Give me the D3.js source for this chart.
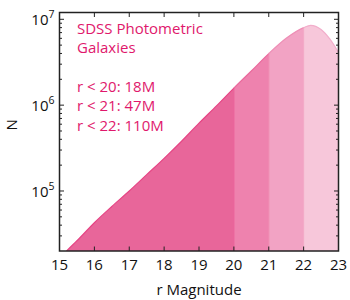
<!DOCTYPE html>
<html>
<head>
<meta charset="utf-8">
<script src="https://cdn.jsdelivr.net/npm/d3@7"></script>
<style>
  body { margin: 0; background: #fff; }
  text { font-family: "Open Sans", sans-serif; }
</style>
</head>
<body>
<div id="chart"></div>
<script>
// r magnitude vs. number of galaxies
var mags   = [15.2, 15.5, 16, 16.5, 17, 17.5, 18, 18.5, 19, 19.5, 20, 20.5, 21, 21.5, 22, 22.2, 22.5, 22.75, 23];
var counts = [2.0e4, 2.63e4, 4.27e4, 6.6e4, 1.0e5, 1.55e5, 2.4e5, 3.8e5, 6.17e5, 9.8e5, 1.58e6, 2.5e6, 3.98e6, 6.0e6, 8.0e6, 8.5e6, 7.6e6, 5.9e6, 4.1e6];
var cuts   = [15, 20, 21, 22, 23];
var xTicks = [15, 16, 17, 18, 19, 20, 21, 22, 23];
var yTicks = [1e5, 1e6, 1e7];
var notes  = ["SDSS Photometric", "Galaxies", "", "r < 20: 18M", "r < 21: 47M", "r < 22: 110M"];

var width = 350, height = 300,
    margin = {top: 12.5, right: 11.5, bottom: 49, left: 59.5},
    w = width - margin.left - margin.right,
    h = height - margin.top - margin.bottom;

var bandFill = ["#e8669a", "#ee82ae", "#f2a3c4", "#f7c7da"],
    bandEdge = ["#e64585", "#ea6a9d", "#ee8fb6", "#f2aecb"],
    textPink = "#e0186c",
    axisCol  = "#222";

var data = mags.map(function(m, i) { return {m: m, n: counts[i]}; });

var x = d3.scaleLinear().domain([15, 23]).range([0, w]);
var y = d3.scaleLog().domain([2e4, 1.2e7]).range([h, 0]);

var svg = d3.select("#chart").append("svg")
    .attr("width", width)
    .attr("height", height);

svg.append("defs").append("clipPath").attr("id", "clip")
  .append("rect").attr("width", w).attr("height", h);

var g = svg.append("g")
    .attr("transform", "translate(" + margin.left + "," + margin.top + ")");

var plot = g.append("g").attr("clip-path", "url(#clip)");

var area = d3.area()
    .curve(d3.curveMonotoneX)
    .x(function(d) { return x(d.m); })
    .y0(h)
    .y1(function(d) { return y(d.n); });

var line = d3.line()
    .curve(d3.curveMonotoneX)
    .x(function(d) { return x(d.m); })
    .y(function(d) { return y(d.n); });

// one band per magnitude cut, each clipped to its own x range
for (var i = 0; i < cuts.length - 1; i++) {
  var cid = "band" + i;
  svg.select("defs").append("clipPath").attr("id", cid)
    .append("rect")
      .attr("x", x(cuts[i]))
      .attr("y", -5)
      .attr("width", x(cuts[i + 1]) - x(cuts[i]))
      .attr("height", h + 10);

  var b = plot.append("g").attr("clip-path", "url(#" + cid + ")");
  b.append("path").datum(data)
      .attr("d", area)
      .attr("fill", bandFill[i]);
  b.append("path").datum(data)
      .attr("d", line)
      .attr("fill", "none")
      .attr("stroke", bandEdge[i])
      .attr("stroke-width", 1.2);

  if (i > 0) {
    var cut = cuts[i];
    var nAt = d3.scaleLinear().domain(mags).range(counts.map(Math.log))(cut);
    plot.append("line")
        .attr("x1", x(cut)).attr("x2", x(cut))
        .attr("y1", h).attr("y2", y(Math.exp(nAt)))
        .attr("stroke", bandEdge[i - 1])
        .attr("stroke-opacity", 0.6)
        .attr("stroke-width", 1);
  }
}

// ticks (inward, all four sides)
var minorY = [];
[1e4, 1e5, 1e6, 1e7].forEach(function(dec) {
  for (var k = 2; k <= 9; k++) {
    var v = dec * k;
    if (v > 2e4 && v < 1.2e7) minorY.push(v);
  }
});

var ticks = g.append("g").attr("stroke", axisCol).attr("stroke-width", 1);
xTicks.forEach(function(t) {
  ticks.append("line").attr("x1", x(t)).attr("x2", x(t)).attr("y1", h).attr("y2", h - 4.5);
  ticks.append("line").attr("x1", x(t)).attr("x2", x(t)).attr("y1", 0).attr("y2", 4.5);
});
yTicks.forEach(function(t) {
  ticks.append("line").attr("x1", 0).attr("x2", 4.5).attr("y1", y(t)).attr("y2", y(t));
  ticks.append("line").attr("x1", w).attr("x2", w - 4.5).attr("y1", y(t)).attr("y2", y(t));
});
minorY.forEach(function(t) {
  ticks.append("line").attr("x1", 0).attr("x2", 2.5).attr("y1", y(t)).attr("y2", y(t));
  ticks.append("line").attr("x1", w).attr("x2", w - 2.5).attr("y1", y(t)).attr("y2", y(t));
});

// frame
g.append("rect")
    .attr("width", w).attr("height", h)
    .attr("fill", "none")
    .attr("stroke", axisCol)
    .attr("stroke-width", 1.5);

// tick labels
g.selectAll("text.xt").data(xTicks).enter().append("text")
    .attr("class", "xt")
    .attr("x", function(d) { return x(d); })
    .attr("y", h + 19)
    .attr("text-anchor", "middle")
    .attr("font-size", 15)
    .attr("fill", "#111")
    .text(function(d) { return d; });

var yl = g.selectAll("text.yt").data(yTicks).enter().append("text")
    .attr("class", "yt")
    .attr("x", -5)
    .attr("y", function(d) { return y(d) + 6; })
    .attr("text-anchor", "end")
    .attr("font-size", 15)
    .attr("fill", "#111");
yl.append("tspan").text("10");
yl.append("tspan")
    .attr("dy", -7)
    .attr("font-size", 10.5)
    .text(function(d) { return Math.round(Math.log10(d)); });

// axis titles
svg.append("text")
    .attr("x", margin.left + w / 2)
    .attr("y", 295)
    .attr("text-anchor", "middle")
    .attr("font-size", 15)
    .attr("fill", "#111")
    .text("r Magnitude");

svg.append("text")
    .attr("transform", "translate(17," + (margin.top + h / 2 - 7) + ") rotate(-90)")
    .attr("text-anchor", "middle")
    .attr("font-size", 15)
    .attr("fill", "#111")
    .text("N");

// annotation
g.selectAll("text.note").data(notes).enter().append("text")
    .attr("class", "note")
    .attr("x", 17.5)
    .attr("y", function(d, i) { return 21.5 + i * 19.3; })
    .attr("font-size", 15)
    .attr("fill", textPink)
    .text(function(d) { return d; });
</script>
</body>
</html>
